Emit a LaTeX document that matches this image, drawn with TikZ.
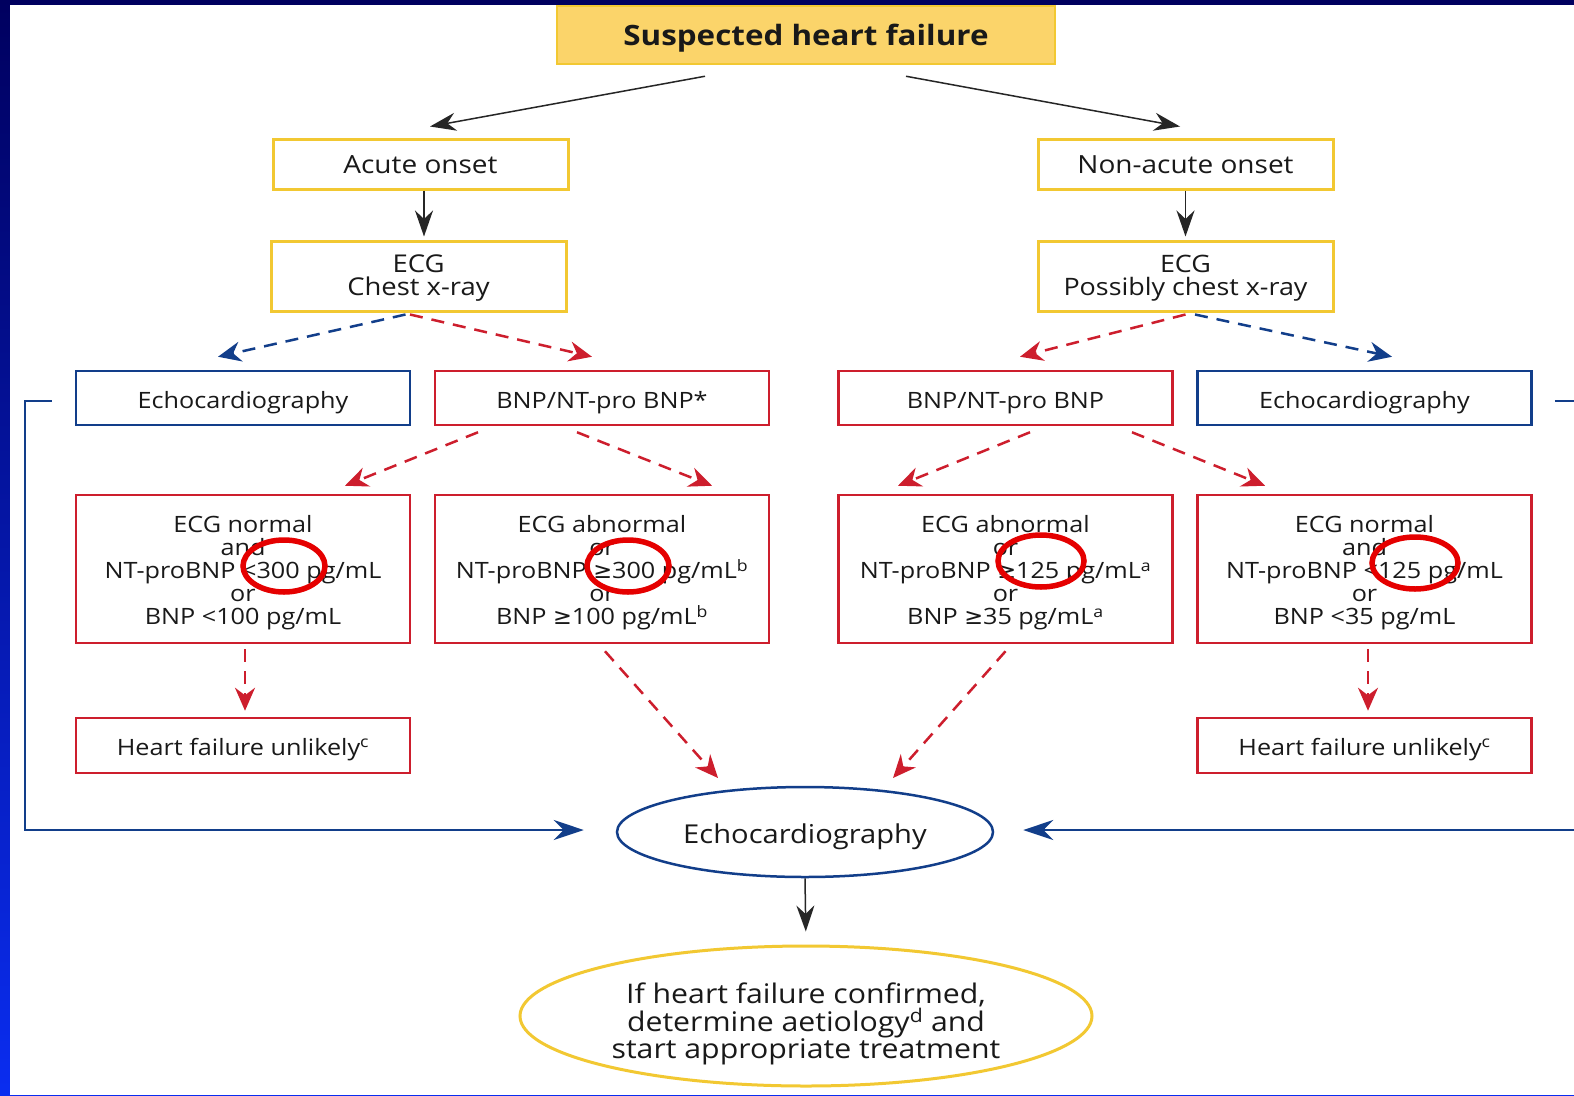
\documentclass[tikz,border=0pt]{standalone}
\usepackage{fontspec}
\setmainfont{Open Sans}[FakeStretch=1.12]
\newfontfamily\symfont{DejaVu Sans}
\usetikzlibrary{arrows.meta, shapes.geometric}

\definecolor{hfyellow}{RGB}{242,200,50}
\definecolor{hffill}{RGB}{251,212,106}
\definecolor{hfred}{RGB}{205,30,45}
\definecolor{hfblue}{RGB}{18,62,138}
\definecolor{hftext}{RGB}{25,25,25}
\definecolor{navy}{RGB}{0,0,95}
\definecolor{brightblue}{RGB}{10,45,240}

\newcommand{\gesym}{{\symfont ≥}}
\newcommand{\boxfont}{\fontsize{22.5}{23}\selectfont}
\newcommand{\topstrut}[1]{\rule{0pt}{#1}}

\begin{document}
\begin{tikzpicture}[x=1pt, y=-1pt,
    ybox/.style={draw=hfyellow, line width=3pt, fill=white, minimum width=295pt, inner sep=0pt, align=center, text=hftext, font=\fontsize{24}{22.5}\selectfont},
    rbox/.style={draw=hfred, line width=2.5pt, fill=white, minimum width=334pt, inner sep=0pt, align=center, text=hftext, font=\boxfont},
    bbox/.style={draw=hfblue, line width=2.5pt, fill=white, minimum width=334pt, inner sep=0pt, align=center, text=hftext, font=\boxfont},
    oneline/.style={text height=#1, text depth=2pt},
    blk/.style={-{Stealth[length=26pt,width=18pt]}, line width=1.5pt, black!85},
    rdash/.style={-{Stealth[length=23pt,width=20pt]}, hfred, line width=2.5pt, dash pattern=on 13pt off 9pt},
    bdash/.style={-{Stealth[length=23pt,width=20pt]}, hfblue, line width=2.5pt, dash pattern=on 13pt off 9pt},
    bloop/.style={-{Stealth[length=30pt,width=20pt]}, hfblue, line width=2pt},
    ring/.style={ellipse, draw=red!90!black, line width=5.5pt, minimum width=82pt, minimum height=52pt, inner sep=0pt}]
\useasboundingbox (0,0) rectangle (1574,1095);
\fill[top color=navy, bottom color=brightblue] (0,0) rectangle (1574,1095);
\fill[white] (10,5) rectangle (1574,1095);

% top of the chart
\node[draw=hfyellow, fill=hffill, line width=2.5pt, minimum width=498pt, minimum height=58pt, oneline=22pt, text=hftext, font=\fontsize{28}{28}\selectfont\bfseries] (suspect) at (806,35) {Suspected heart failure};

\node[ybox, minimum height=50pt, oneline=20pt, font=\fontsize{25}{20}\selectfont] (acute) at (420.5,164) {Acute onset};
\node[ybox, minimum height=50pt, oneline=20pt, font=\fontsize{25}{20}\selectfont] (nonacute) at (1185.5,164) {Non-acute onset};
\node[ybox, minimum height=70pt, font=\fontsize{24.5}{22.5}\selectfont] (ecgL) at (418.5,276) {\topstrut{22pt}ECG\\Chest x-ray};
\node[ybox, minimum height=70pt] (ecgR) at (1185.5,276) {\topstrut{22pt}ECG\\Possibly chest x-ray};

% second level
\node[bbox, minimum height=54pt, oneline=22pt] (echoL) at (243,398) {Echocardiography};
\node[rbox, minimum height=54pt, oneline=22pt] (bnpL) at (602,398) {BNP/NT-pro BNP*};
\node[rbox, minimum height=54pt, oneline=22pt] (bnpR) at (1005.5,398) {BNP/NT-pro BNP};
\node[bbox, minimum height=54pt, oneline=22pt] (echoR) at (1364.5,398) {Echocardiography};

\node[rbox, minimum height=148pt] (normL) at (243,569) {\topstrut{25pt}ECG normal\\and\\NT-proBNP <300 pg/mL\\or\\BNP <100 pg/mL};
\node[rbox, minimum height=148pt] (abnL) at (602,569) {\topstrut{25pt}ECG abnormal\\or\\NT-proBNP \gesym300 pg/mL\textsuperscript{b}\\or\\BNP \gesym100 pg/mL\textsuperscript{b}};
\node[rbox, minimum height=148pt] (abnR) at (1005.5,569) {\topstrut{25pt}ECG abnormal\\or\\NT-proBNP \gesym125 pg/mL\textsuperscript{a}\\or\\BNP \gesym35 pg/mL\textsuperscript{a}};
\node[rbox, minimum height=148pt] (normR) at (1364.5,569) {\topstrut{25pt}ECG normal\\and\\NT-proBNP <125 pg/mL\\or\\BNP <35 pg/mL};

\node[rbox, minimum height=55pt, oneline=22pt] (unlikelyL) at (243,745.5) {Heart failure unlikely\textsuperscript{c}};
\node[rbox, minimum height=55pt, oneline=22pt] (unlikelyR) at (1364.5,745.5) {Heart failure unlikely\textsuperscript{c}};

% bottom
\node[ellipse, draw=hfblue, line width=2.5pt, minimum width=376pt, minimum height=90pt, inner sep=0pt, oneline=24pt, text=hftext, font=\fontsize{26}{28}\selectfont] (echo) at (805,832) {Echocardiography};
\node[ellipse, draw=hfyellow, line width=3pt, minimum width=572pt, minimum height=140pt, inner sep=0pt, align=center, text=hftext, font=\fontsize{27}{27.5}\selectfont] (final) at (806,1016) {\topstrut{37pt}If heart failure confirmed,\\determine aetiology\textsuperscript{d} and\\start appropriate treatment};

% red marks
\node[ring] (markA) at (284,566) {};
\node[ring] (markB) at (628,566) {};
\node[ring, minimum width=86pt] (markC) at (1041,561) {};
\node[ring, minimum width=86pt] (markD) at (1415,563) {};

\draw[blk] ([xshift=-101pt,yshift=-11pt]suspect.south) -- ([xshift=9.5pt,yshift=11pt]acute.north);
\draw[blk] ([xshift=100pt,yshift=-11pt]suspect.south) -- ([xshift=-5.5pt,yshift=11pt]nonacute.north);
\draw[blk, shorten >=3pt] ([xshift=3.5pt]acute.south) -- ([xshift=5.5pt]ecgL.north);
\draw[blk, shorten >=3pt] (nonacute.south) -- (ecgR.north);

\draw[bdash] ([xshift=-13pt,yshift=-2pt]ecgL.south) -- ([xshift=-25pt,yshift=13pt]echoL.north);
\draw[rdash] ([xshift=-8.5pt,yshift=-2pt]ecgL.south) -- ([xshift=-10pt,yshift=13pt]bnpL.north);
\draw[rdash] ([yshift=-2pt]ecgR.south) -- ([xshift=14.5pt,yshift=13pt]bnpR.north);
\draw[bdash] ([xshift=9.5pt,yshift=-2pt]ecgR.south) -- ([xshift=27.5pt,yshift=13pt]echoR.north);

\draw[rdash] ([xshift=-124pt,yshift=-6pt]bnpL.south) -- ([xshift=102pt,yshift=8pt]normL.north);
\draw[rdash] ([xshift=-25pt,yshift=-6pt]bnpL.south) -- ([xshift=110pt,yshift=8pt]abnL.north);
\draw[rdash] ([xshift=24.5pt,yshift=-6pt]bnpR.south) -- ([xshift=-107.5pt,yshift=8pt]abnR.north);
\draw[rdash] ([xshift=126.5pt,yshift=-6pt]bnpR.south) -- ([xshift=-99.5pt,yshift=8pt]normR.north);

\draw[rdash] ([xshift=2pt,yshift=-5pt]normL.south) -- ([xshift=2pt,yshift=6pt]unlikelyL.north);
\draw[rdash] ([xshift=3.5pt,yshift=-5pt]normR.south) -- ([xshift=3.5pt,yshift=6pt]unlikelyR.north);
\draw[rdash] ([xshift=3pt,yshift=-7pt]abnL.south) -- ([xshift=-87pt,yshift=54pt]echo.center);
\draw[rdash] ([yshift=-7pt]abnR.south) -- ([xshift=88pt,yshift=54pt]echo.center);

\draw[bloop] ([xshift=-23pt,yshift=-3pt]echoL.west) -- ++(-27,0) |- ([xshift=-32pt,yshift=2pt]echo.west);
\draw[bloop] ([xshift=22pt,yshift=-3pt]echoR.east) -- ++(40,0) |- ([xshift=29pt,yshift=2pt]echo.east);

\draw[blk, shorten >=13pt] (echo.south) -- (final.north);
\end{tikzpicture}
\end{document}
